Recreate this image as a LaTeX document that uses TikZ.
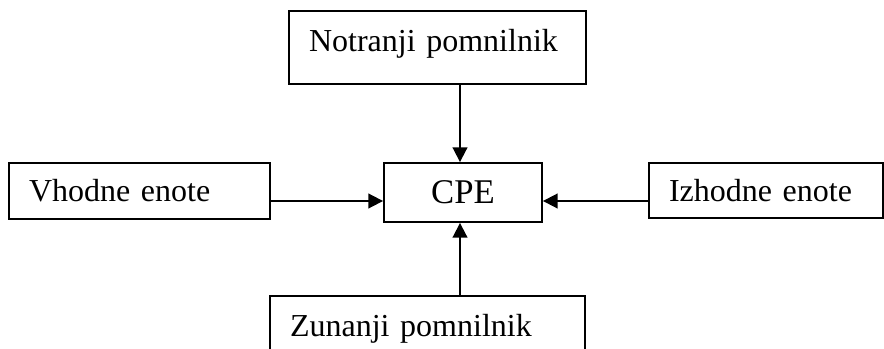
\documentclass[tikz,border=0pt]{standalone}
\usepackage{fontspec}
\setmainfont{Liberation Serif}
\usetikzlibrary{arrows.meta}

\begin{document}
\begin{tikzpicture}[
    x=0.75pt, y=0.75pt,
    box/.style={rectangle, draw, line width=1.4pt, inner xsep=15pt, inner ysep=0pt, align=left, font=\fontsize{24}{28}\selectfont},
    tallbox/.style={box, text width=#1, minimum height=54.75pt, text depth=10.5pt},
    line/.style={draw, line width=1.4pt, -{Triangle[length=11pt, width=11pt]}}
]
    \useasboundingbox (0,0) rectangle (884,-349);
    \clip (0,0) rectangle (884,-349);

    %% CPU in the middle
    \node [box, align=center, inner xsep=0pt, minimum width=118.5pt, minimum height=44.25pt, font=\fontsize{26}{30}\selectfont] (cpe) at (463,-192.5) {CPE};

    %% Units around it
    \node [tallbox=192.75pt] (notranji) at (437.5,-47.5) {Notranji pomnilnik};
    \node [box, text width=165.75pt, minimum height=42pt] (vhodne) at (139.5,-191) {Vhodne enote};
    \node [box, text width=145.5pt, minimum height=41.25pt] (izhodne) at (766,-190.5) {Izhodne enote};
    \node [tallbox=206.25pt] (zunanji) at (427.5,-332.5) {Zunanji pomnilnik};

    % Connector lines
    \coordinate (hline) at (0,-201);
    \coordinate (vline) at (460,0);

    % Paths
    \path [line] (vhodne.east |- hline) -- (cpe.west |- hline);
    \path [line] (izhodne.west |- hline) -- (cpe.east |- hline);
    \path [line] (notranji.south -| vline) -- (cpe.north -| vline);
    \path [line] (zunanji.north -| vline) -- (cpe.south -| vline);

\end{tikzpicture}
\end{document}
